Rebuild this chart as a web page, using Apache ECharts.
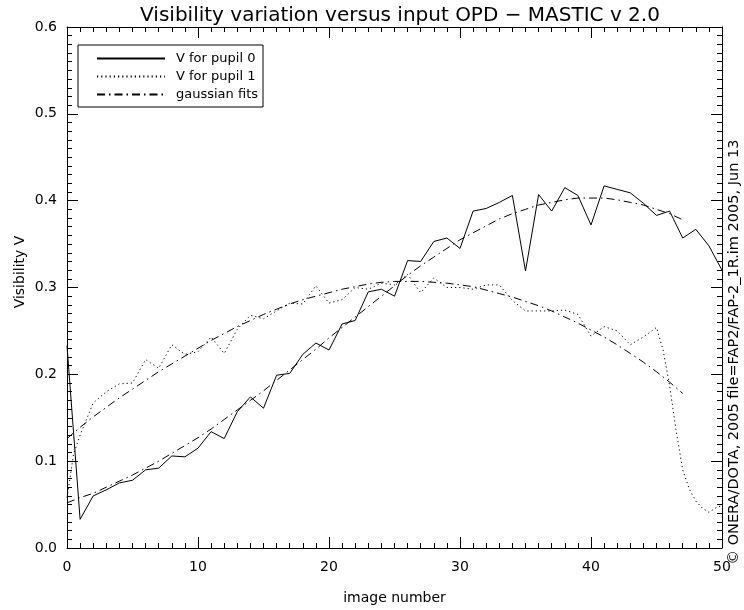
<!DOCTYPE html>
<html>
<head>
<meta charset="utf-8">
<script src="https://cdn.jsdelivr.net/npm/echarts@6/dist/echarts.min.js"></script>
<style>
  html, body { margin: 0; padding: 0; background: #fff; }
  #chart { width: 744px; height: 610px; }
</style>
</head>
<body>
<div id="chart"></div>
<script>
// Visibility of pupil 0 per image number
const pupil0X = [0,1,2,3,4,5,6,7,8,9,10,11,12,13,14,15,16,17,18,19,20,21,22,23,24,25,26,27,28,29,30,31,32,33,34,35,36,37,38,39,40,41,42,43,44,45,46,47,48,49,50];
const pupil0V = [0.233,0.033,0.060,0.067,0.075,0.078,0.090,0.092,0.106,0.105,0.115,0.134,0.126,0.157,0.174,0.161,0.199,0.201,0.223,0.236,0.228,0.258,0.262,0.295,0.298,0.290,0.331,0.330,0.353,0.357,0.345,0.388,0.391,0.398,0.406,0.319,0.407,0.388,0.415,0.406,0.372,0.417,0.413,0.409,0.397,0.383,0.388,0.357,0.367,0.348,0.320];

// Visibility of pupil 1 (denser samples where the curve bends sharply)
const pupil1X = [0,0.5,1,2,3,4,5,6,7,8,9,10,11,12,13,14,15,16,17,18,19,20,21,22,23,24,25,26,27,28,29,30,31,32,33,34,35,36,37,38,39,40,41,42,43,44,45,45.5,46,46.5,47,47.5,48,48.5,49,49.5,50];
const pupil1V = [0.058,0.108,0.130,0.167,0.180,0.189,0.190,0.217,0.207,0.234,0.223,0.226,0.243,0.224,0.252,0.268,0.264,0.273,0.282,0.281,0.302,0.282,0.286,0.300,0.298,0.305,0.303,0.315,0.294,0.311,0.300,0.300,0.298,0.303,0.303,0.285,0.273,0.273,0.273,0.274,0.269,0.244,0.255,0.250,0.234,0.243,0.254,0.228,0.187,0.135,0.090,0.068,0.054,0.046,0.041,0.046,0.049];

// Gaussian fits, sampled on images 0..47
const fitX = [0,1,2,3,4,5,6,7,8,9,10,11,12,13,14,15,16,17,18,19,20,21,22,23,24,25,26,27,28,29,30,31,32,33,34,35,36,37,38,39,40,41,42,43,44,45,46,47];
const fit0V = [0.052,0.058,0.063,0.070,0.077,0.084,0.092,0.100,0.109,0.118,0.127,0.137,0.148,0.159,0.170,0.181,0.193,0.205,0.217,0.229,0.242,0.254,0.266,0.278,0.290,0.302,0.314,0.325,0.335,0.345,0.355,0.363,0.371,0.379,0.385,0.390,0.395,0.398,0.401,0.403,0.403,0.403,0.401,0.398,0.395,0.390,0.385,0.378];
const fit1V = [0.126,0.139,0.151,0.162,0.173,0.183,0.193,0.203,0.212,0.221,0.230,0.239,0.247,0.255,0.262,0.269,0.275,0.281,0.286,0.290,0.294,0.298,0.301,0.304,0.306,0.307,0.307,0.307,0.306,0.305,0.303,0.301,0.297,0.293,0.289,0.284,0.279,0.273,0.266,0.259,0.251,0.243,0.234,0.224,0.214,0.203,0.191,0.178];

const xTicks = [0, 10, 20, 30, 40, 50];
const yTicks = [0.0, 0.1, 0.2, 0.3, 0.4, 0.5, 0.6];

const titleText = 'Visibility variation versus input OPD \u2212 MASTIC v 2.0';
const xName = 'image number';
const yName = 'Visibility V';
const stampText = '\u00a9 ONERA/DOTA, 2005 file=FAP2/FAP-2_1R.im 2005, Jun 13';
const legendNames = ['V for pupil 0', 'V for pupil 1', 'gaussian fits'];

const FONT = 'DejaVu Sans';
const INK = '#000';

function pairs(xs, ys) { return xs.map((x, i) => [x, ys[i]]); }

function frameAxis(extra) {
  return Object.assign({
    type: 'value',
    axisLine: { show: true, onZero: false, lineStyle: { color: INK, width: 1 } },
    axisTick: { show: true, inside: true, length: 11, lineStyle: { color: INK, width: 1 } },
    minorTick: { show: true, splitNumber: 10, length: 5, lineStyle: { color: INK, width: 1 } },
    splitLine: { show: false },
    minorSplitLine: { show: false }
  }, extra);
}

const chart = echarts.init(document.getElementById('chart'), null, { renderer: 'canvas' });

chart.setOption({
  animation: false,
  backgroundColor: '#fff',
  textStyle: { fontFamily: FONT, color: INK },
  title: {
    text: titleText,
    left: 395,
    top: 1,
    textAlign: 'center',
    textStyle: { fontFamily: FONT, fontSize: 20, fontWeight: 'normal', color: INK }
  },
  grid: { left: 67, right: 22, top: 27, bottom: 50, containLabel: false },
  legend: {
    data: legendNames,
    orient: 'vertical',
    left: 78,
    top: 45,
    padding: [7, 5, 6, 18],
    itemGap: 5,
    itemWidth: 68,
    itemHeight: 14,
    borderColor: INK,
    borderWidth: 1,
    backgroundColor: '#fff',
    itemStyle: { opacity: 0 },
    textStyle: { fontFamily: FONT, fontSize: 13, color: INK, padding: [0, 0, 0, 6] },
    selectedMode: false
  },
  xAxis: [
    frameAxis({
      position: 'bottom', min: 0, max: 50, interval: 10,
      axisLabel: { color: INK, fontFamily: FONT, fontSize: 14, margin: 12,
                   formatter: v => xTicks.includes(v) ? String(v) : '' },
      name: xName, nameLocation: 'middle', nameGap: 43,
      nameTextStyle: { fontFamily: FONT, fontSize: 14, color: INK }
    }),
    frameAxis({
      position: 'top', min: 0, max: 50, interval: 10,
      axisLabel: { show: false }
    })
  ],
  yAxis: [
    frameAxis({
      position: 'left', min: 0, max: 0.6, interval: 0.1,
      axisLabel: { color: INK, fontFamily: FONT, fontSize: 14, margin: 10,
                   formatter: v => yTicks.find(t => Math.abs(t - v) < 1e-9).toFixed(1) }
    }),
    frameAxis({
      position: 'right', min: 0, max: 0.6, interval: 0.1,
      axisLabel: { show: false }
    })
  ],
  graphic: [
    {
      // y-axis title
      type: 'text',
      x: 20,
      y: 272,
      rotation: Math.PI / 2,
      style: { text: yName, fontFamily: FONT, fontSize: 14, fill: INK,
               align: 'center', verticalAlign: 'middle' }
    },
    {
      // file stamp along the right edge
      type: 'text',
      x: 734,
      y: 352,
      rotation: Math.PI / 2,
      style: { text: stampText, fontFamily: FONT, fontSize: 14.5, fill: INK,
               align: 'center', verticalAlign: 'middle' }
    }
  ],
  series: [
    {
      name: 'gaussian fits', type: 'line', data: pairs(fitX, fit1V),
      symbol: 'none', z: 2,
      lineStyle: { color: INK, width: 1, type: [8, 4, 1.5, 4] }
    },
    {
      name: 'gaussian fits', type: 'line', data: pairs(fitX, fit0V),
      symbol: 'none', z: 2,
      lineStyle: { color: INK, width: 1, type: [8, 4, 1.5, 4] }
    },
    {
      name: 'V for pupil 1', type: 'line', data: pairs(pupil1X, pupil1V),
      symbol: 'none', z: 3,
      lineStyle: { color: INK, width: 1, type: [1.2, 3] }
    },
    {
      name: 'V for pupil 0', type: 'line', data: pairs(pupil0X, pupil0V),
      symbol: 'none', z: 4,
      lineStyle: { color: INK, width: 1, type: 'solid' }
    }
  ]
});
</script>
</body>
</html>
